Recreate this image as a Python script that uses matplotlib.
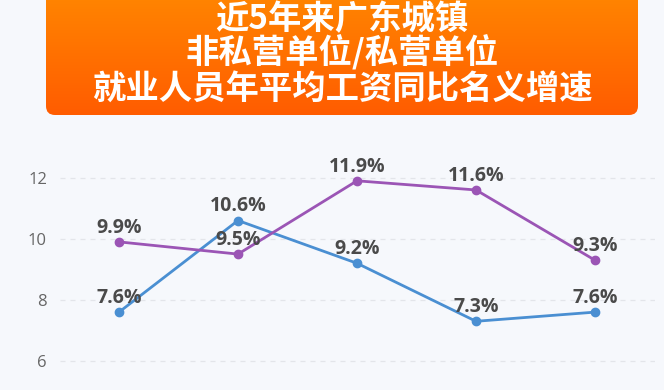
import matplotlib
matplotlib.use("Agg")
import matplotlib.pyplot as plt
import numpy as np
from matplotlib.patches import FancyBboxPatch

plt.rcParams["font.family"] = ["Noto Sans CJK SC", "DejaVu Sans"]

years = ["2019", "2020", "2021", "2022", "2023"]
non_private = [7.6, 10.6, 9.2, 7.3, 7.6]
private = [9.9, 9.5, 11.9, 11.6, 9.3]
y_ticks = [6, 8, 10, 12]
title_lines = ["近5年来广东城镇", "非私营单位/私营单位", "就业人员年平均工资同比名义增速"]

W, H = 664, 390
bg = "#f6f8fc"
fig = plt.figure(figsize=(W / 100, H / 100), dpi=100, facecolor=bg)

# header banner in pixel coordinates
head = fig.add_axes([0, 0, 1, 1])
head.set_xlim(0, W)
head.set_ylim(H, 0)
head.axis("off")
head.patch.set_alpha(0)
box = FancyBboxPatch((46, -20), 592, 135, boxstyle="round,pad=0,rounding_size=9",
                     facecolor="none", edgecolor="none", transform=head.transData)
head.add_patch(box)
grad = np.linspace(0, 1, 256).reshape(-1, 1)
cmap = matplotlib.colors.LinearSegmentedColormap.from_list("o", ["#ff8a00", "#ff5c00"])
img = head.imshow(grad, cmap=cmap, extent=(46, 638, 115, -20), aspect="auto", zorder=1)
img.set_clip_path(box)
for text, yc in zip(title_lines, [20, 53, 89]):
    head.text(342, yc, text, color="white", fontsize=24, fontweight="bold",
              ha="center", va="center", zorder=2)

ax = fig.add_axes([0, 0, 1, 1])
ax.set_position([59.5 / W, 0, 595 / W, 255 / H])
ax.patch.set_alpha(0)
x = np.arange(len(years))
ax.set_xlim(-0.5, len(years) - 0.5)
ax.set_ylim(5.05, 13.4)
for s in ax.spines.values():
    s.set_visible(False)
ax.set_xticks([])
ax.set_yticks(y_ticks)
ax.tick_params(axis="y", length=0, pad=9, labelsize=12, labelcolor="#666666")
for lab in ax.get_yticklabels():
    lab.set_family(["Open Sans", "DejaVu Sans"])
for t in y_ticks:
    ax.axhline(t, color="#e3e5ea", lw=0.9, ls=(0, (4, 4)), zorder=0)

series = [(non_private, "#4a8fd2"), (private, "#9b55b5")]
for values, color in series:
    ax.plot(x, values, color=color, lw=2, marker="o", ms=6, zorder=3)
    for xi, v in zip(x, values):
        ax.annotate(f"{v}%", (xi, v), xytext=(0, 3), textcoords="offset points",
                    ha="center", va="bottom", fontsize=14, fontweight="bold",
                    family=["Open Sans", "DejaVu Sans"], color="#4a4a4a", zorder=4)

fig.savefig("out.png", dpi=100, facecolor=bg)
